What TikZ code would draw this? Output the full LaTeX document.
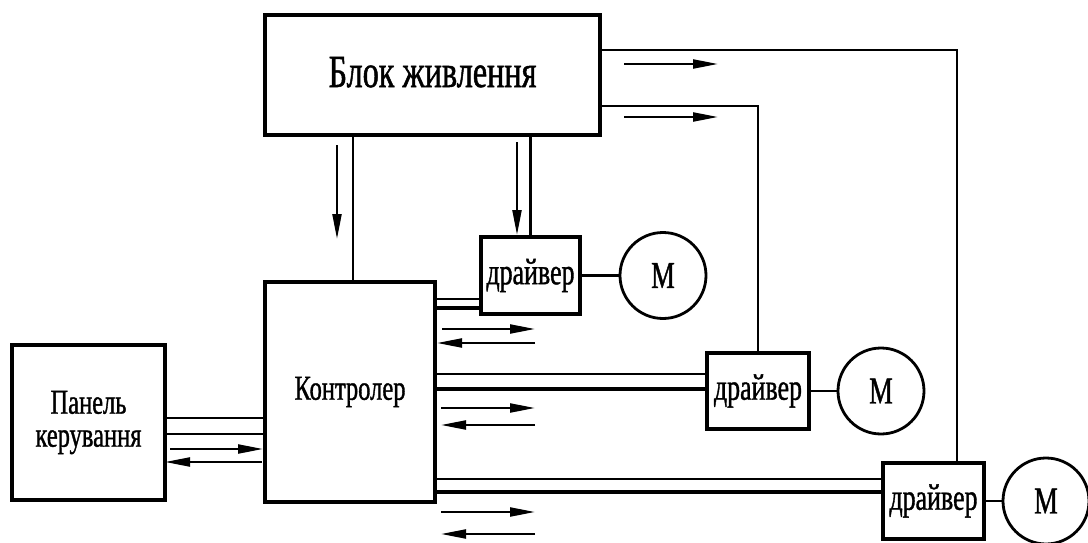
\documentclass[tikz,border=0pt]{standalone}
\usepackage{fontspec}
\newfontfamily\cf[FakeStretch=0.7,FakeBold=1]{Liberation Serif}
\usetikzlibrary{arrows.meta}
\begin{document}
\begin{tikzpicture}[x=1pt,y=-1pt,
  box/.style={draw,line width=3.4pt,inner sep=0pt},
  txt/.style={font=\cf\fontsize{35}{33}\selectfont},
  drvtxt/.style={font=\cf\fontsize{37}{37}\selectfont},
  conn/.style={line width=2.3pt},
  connb/.style={line width=3.2pt},
  sig/.style={line width=2.2pt,-{Triangle[length=25pt,width=9pt]}},
  motor/.style={draw,circle,line width=2.8pt,minimum size=86pt,inner sep=0pt,font=\cf\fontsize{38}{38}\selectfont}
]
\useasboundingbox (0,0) rectangle (1088,543);
% blocks
\node[box,minimum width=335pt,minimum height=120pt,font=\cf\fontsize{46}{46}\selectfont] (power) at (432.5,75) {\raisebox{6pt}{Блок живлення}};
\node[box,minimum width=170pt,minimum height=220pt,txt] (ctrl) at (350,392) {Контролер};
\node[box,minimum width=153pt,minimum height=155pt,txt,align=center] (panel) at (88.5,422.5) {Панель\\керування};
\node[box,minimum width=99pt,minimum height=77pt,drvtxt] (drv1) at (530.5,275.5) {драйвер};
\node[box,minimum width=102pt,minimum height=76pt,drvtxt] (drv2) at (758,391) {драйвер};
\node[box,minimum width=101pt,minimum height=76pt,drvtxt] (drv3) at (933.5,501) {драйвер};
\node[motor] (m1) at (663,275.5) {М};
\node[motor] (m2) at (881,391) {М};
\node[motor] (m3) at (1046,501) {М};
% power lines
\draw[conn] ([yshift=25pt]power.east) -| ([xshift=23.5pt]drv3.north);
\draw[conn] ([yshift=-31pt]power.east) -| (drv2.north);
\draw[conn] ([xshift=3pt]ctrl.north) -- ([xshift=3pt]ctrl.north |- power.south);
\draw[conn] (drv1.north) -- (drv1.north |- power.south);
% controller to drivers
\draw[conn] ([yshift=-23.5pt]drv1.west -| ctrl.east) -- ([yshift=-23.5pt]drv1.west);
\draw[connb] ([yshift=-32.5pt]drv1.west -| ctrl.east) -- ([yshift=-32.5pt]drv1.west);
\draw[conn] ([yshift=17pt]drv2.west -| ctrl.east) -- ([yshift=17pt]drv2.west);
\draw[connb] ([yshift=2pt]drv2.west -| ctrl.east) -- ([yshift=2pt]drv2.west);
\draw[conn] ([yshift=22pt]drv3.west -| ctrl.east) -- ([yshift=22pt]drv3.west);
\draw[connb] ([yshift=9pt]drv3.west -| ctrl.east) -- ([yshift=9pt]drv3.west);
% panel to controller
\draw[conn] ([yshift=4.5pt]panel.east) -- ([yshift=4.5pt]panel.east -| ctrl.west);
\draw[conn] ([yshift=-11.5pt]panel.east) -- ([yshift=-11.5pt]panel.east -| ctrl.west);
% drivers to motors
\draw[conn] (drv1.east) -- (m1.west);
\draw[conn] (drv2.east) -- (m2.west);
\draw[conn] (drv3.east) -- (m3.west);
% signal arrows
\draw[sig] (624,64) -- (718,64);
\draw[sig] (624,117) -- (718,117);
\draw[sig] (337,145) -- (337,239);
\draw[sig] (517,142) -- (517,235);
\draw[sig] (442,329) -- (535,329);
\draw[sig] (535,343) -- (437,343);
\draw[sig] (441,408) -- (535,408);
\draw[sig] (535,425) -- (441,425);
\draw[sig] (441,512) -- (535,512);
\draw[sig] (535,534) -- (441,534);
\draw[sig] (170,449) -- (263,449);
\draw[sig] (262,462) -- (165,462);
\end{tikzpicture}
\end{document}
